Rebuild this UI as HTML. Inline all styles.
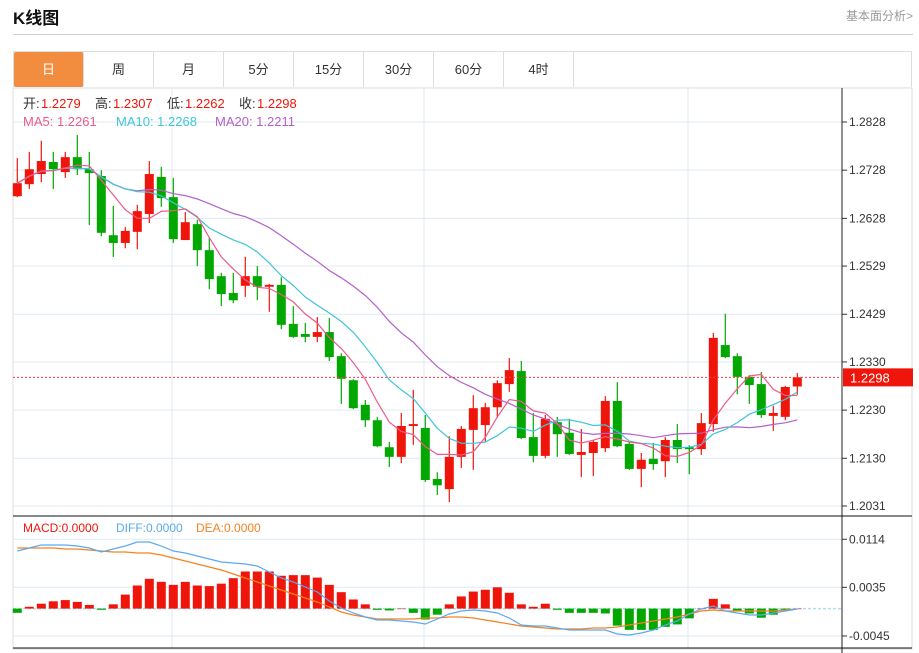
<!DOCTYPE html>
<html><head><meta charset="utf-8">
<style>
body{margin:0;background:#fff;width:919px;height:653px;overflow:hidden;font-family:"Liberation Sans","Noto Sans CJK SC",sans-serif;}
#title{position:absolute;left:13px;top:4px;font-size:17px;font-weight:bold;color:#111;}
#more{position:absolute;right:6px;top:7px;font-size:12px;color:#999;}
#hr{position:absolute;left:13px;top:34px;width:900px;height:1px;background:#ccc;}
#tabs{position:absolute;left:13px;top:51px;width:899px;height:36px;border:1px solid #ddd;border-bottom:none;box-sizing:border-box;}
.tab{position:absolute;top:0;width:70px;height:35px;line-height:35px;text-align:center;font-size:13px;color:#333;border-right:1px solid #ddd;box-sizing:border-box;}
.tab.on{background:#f28c3e;color:#fff;border-radius:2px;}
svg{position:absolute;left:0;top:0;}
</style></head><body>
<div id="title">K线图</div>
<div id="more">基本面分析&gt;</div>
<div id="hr"></div>
<div id="tabs">
<div class="tab on" style="left:0">日</div>
<div class="tab" style="left:70px">周</div>
<div class="tab" style="left:140px">月</div>
<div class="tab" style="left:210px">5分</div>
<div class="tab" style="left:280px">15分</div>
<div class="tab" style="left:350px">30分</div>
<div class="tab" style="left:420px">60分</div>
<div class="tab" style="left:490px">4时</div>
</div>
<svg id="chart" width="919" height="653"></svg>
<script>
const opens =[1.2674,1.2699,1.2720,1.2745,1.2724,1.2755,1.2730,1.2716,1.2593,1.2577,1.2600,1.2637,1.2714,1.2672,1.2583,1.2616,1.2562,1.2508,1.2473,1.2488,1.2508,1.2486,1.2490,1.2409,1.2388,1.2382,1.2392,1.2342,1.2292,1.2241,1.2209,1.2153,1.2133,1.2197,1.2193,1.2087,1.2066,1.2133,1.2189,1.2199,1.2236,1.2284,1.2311,1.2174,1.2135,1.2205,1.2183,1.2137,1.2141,1.2151,1.2249,1.2160,1.2108,1.2129,1.2124,1.2168,1.2153,1.2149,1.2201,1.2365,1.2342,1.2299,1.2284,1.2218,1.2216,1.2279];
const highs =[1.2753,1.2766,1.2789,1.2766,1.2766,1.2801,1.2766,1.2728,1.2654,1.2610,1.2656,1.2747,1.2735,1.2712,1.2641,1.2625,1.2589,1.2515,1.2515,1.2548,1.2529,1.2492,1.2506,1.2446,1.2411,1.2423,1.2421,1.2348,1.2294,1.2251,1.2216,1.2164,1.2224,1.2272,1.2220,1.2101,1.2176,1.2197,1.2261,1.2245,1.2292,1.2338,1.2332,1.2224,1.2220,1.2216,1.2212,1.2191,1.2168,1.2259,1.2288,1.2164,1.2141,1.2162,1.2174,1.2201,1.2157,1.2224,1.2390,1.2430,1.2348,1.2303,1.2309,1.2239,1.2280,1.2307];
const lows  =[1.2672,1.2689,1.2703,1.2689,1.2712,1.2718,1.2614,1.2591,1.2548,1.2566,1.2564,1.2618,1.2652,1.2577,1.2583,1.2529,1.2481,1.2446,1.2452,1.2465,1.2458,1.2434,1.2398,1.2380,1.2371,1.2371,1.2332,1.2243,1.2232,1.2195,1.2153,1.2112,1.2120,1.2158,1.2081,1.2054,1.2039,1.2110,1.2106,1.2164,1.2214,1.2268,1.2170,1.2122,1.2130,1.2133,1.2137,1.2091,1.2093,1.2143,1.2153,1.2106,1.2070,1.2106,1.2091,1.2120,1.2097,1.2137,1.2185,1.2338,1.2263,1.2243,1.2214,1.2187,1.2209,1.2262];
const closes=[1.2701,1.2730,1.2747,1.2730,1.2755,1.2730,1.2722,1.2598,1.2577,1.2602,1.2643,1.2720,1.2670,1.2585,1.2620,1.2562,1.2502,1.2471,1.2458,1.2508,1.2486,1.2490,1.2407,1.2382,1.2382,1.2392,1.2340,1.2295,1.2234,1.2209,1.2155,1.2133,1.2197,1.2201,1.2085,1.2074,1.2133,1.2191,1.2234,1.2236,1.2286,1.2313,1.2172,1.2135,1.2212,1.2180,1.2139,1.2143,1.2164,1.2249,1.2155,1.2108,1.2127,1.2118,1.2168,1.2149,1.2149,1.2203,1.2380,1.2340,1.2299,1.2282,1.2220,1.2224,1.2278,1.2298];
const macdHist=[-0.0007,0.0003,0.0008,0.0012,0.0014,0.0011,0.0006,-0.0002,0.0007,0.0023,0.0038,0.0049,0.0044,0.0039,0.0044,0.0038,0.0037,0.0041,0.0050,0.0061,0.0061,0.0061,0.0054,0.0055,0.0055,0.0051,0.0039,0.0027,0.0015,0.0007,-0.0002,-0.0003,0,-0.0007,-0.0018,-0.0010,0.0007,0.0020,0.0028,0.0031,0.0035,0.0026,0.0007,0.0003,0.0008,-0.0002,-0.0007,-0.0007,-0.0007,-0.0008,-0.0028,-0.0035,-0.0035,-0.0035,-0.0030,-0.0026,-0.0016,0,0.0016,0.0007,-0.0003,-0.0008,-0.0015,-0.0010,-0.0002,0];
const diffVals=[0.00947,0.00996,0.01046,0.01046,0.01046,0.01029,0.00996,0.00930,0.00980,0.01029,0.01095,0.01095,0.01029,0.00947,0.00914,0.00865,0.00815,0.00766,0.00750,0.00733,0.00700,0.00602,0.00503,0.00437,0.00355,0.00273,0.00125,0.00010,-0.00072,-0.00138,-0.00187,-0.00187,-0.00204,-0.00220,-0.00253,-0.00171,-0.00089,-0.00039,-0.00023,-0.00039,-0.00072,-0.00155,-0.00270,-0.00286,-0.00286,-0.00319,-0.00352,-0.00352,-0.00352,-0.00352,-0.00418,-0.00434,-0.00401,-0.00352,-0.00270,-0.00204,-0.00089,-0.00007,0.00043,-0.00039,-0.00072,-0.00105,-0.00105,-0.00072,-0.00039,-0.00007];
const deaVals=[0.00996,0.00996,0.00996,0.00996,0.00980,0.00980,0.00963,0.00947,0.00930,0.00930,0.00914,0.00914,0.00881,0.00832,0.00783,0.00733,0.00684,0.00634,0.00569,0.00503,0.00437,0.00372,0.00306,0.00240,0.00174,0.00109,0.00026,-0.00056,-0.00105,-0.00138,-0.00171,-0.00171,-0.00171,-0.00171,-0.00155,-0.00155,-0.00138,-0.00138,-0.00155,-0.00187,-0.00220,-0.00253,-0.00286,-0.00302,-0.00319,-0.00335,-0.00335,-0.00335,-0.00319,-0.00319,-0.00302,-0.00270,-0.00237,-0.00204,-0.00171,-0.00138,-0.00089,-0.00039,-0.00023,-0.00039,-0.00039,-0.00039,-0.00039,-0.00039,-0.00023,-0.00007];
const priceTicks=[1.2828,1.2728,1.2628,1.2529,1.2429,1.2330,1.2230,1.2130,1.2031];
const macdTicks=[0.0114,0.0035,-0.0045];
const maLegend=['MA5: 1.2261','MA10: 1.2268','MA20: 1.2211'];

const NS='http://www.w3.org/2000/svg';
const svg=document.getElementById('chart');
function mk(t,a,parent){const e=document.createElementNS(NS,t);for(const k in a)e.setAttribute(k,a[k]);(parent||svg).appendChild(e);return e;}
const L=13,R=842;
const xOf=i=>17.3+12*i;
const yP=v=>122+(1.2828-v)/(1.2828-1.2031)*384;
const yM=v=>608.6-v/0.0001644;
const RED='#f0150a',GREEN='#02a702';

let e;
e=mk('rect',{x:L,y:88,width:899,height:561,fill:'none',stroke:'#ddd'});


[172,424,688].forEach(x=>{e=mk('line',{x1:x,y1:88,x2:x,y2:648,stroke:'#dfeaf3'});

});
priceTicks.forEach(t=>{const y=yP(t);
e=mk('line',{x1:L,y1:y,x2:R,y2:y,stroke:'#dfeaf3'});


mk('line',{x1:R,y1:y,x2:R+5,y2:y,stroke:'#333'});
e=mk('text',{x:R+7,y:y+4,'font-size':12,fill:'#333'});e.textContent=t.toFixed(4);

});
macdTicks.forEach(t=>{const y=yM(t);
e=mk('line',{x1:L,y1:y,x2:R,y2:y,stroke:'#dfeaf3'});


mk('line',{x1:R,y1:y,x2:R+5,y2:y,stroke:'#333'});
e=mk('text',{x:R+7,y:y+4,'font-size':12,fill:'#333'});e.textContent=t.toFixed(4);

});
mk('line',{x1:R,y1:88,x2:R,y2:653,stroke:'#222'});
e=mk('line',{x1:L,y1:516,x2:912,y2:516,stroke:'#111'});


mk('line',{x1:L,y1:648,x2:912,y2:648,stroke:'#111'});
e=mk('line',{x1:L,y1:yM(0),x2:R,y2:yM(0),stroke:'#aee0f0','stroke-dasharray':'3,2','stroke-width':1.5});



closes.forEach((c,i)=>{const o=opens[i],x=xOf(i),up=c>=o,col=up?RED:GREEN;
const g=mk('g',{});


mk('line',{x1:x,y1:yP(highs[i]),x2:x,y2:yP(lows[i]),stroke:col,'stroke-width':1.2},g);
const t=Math.min(yP(o),yP(c)),b=Math.max(yP(o),yP(c));
mk('rect',{x:x-4.5,y:t,width:9,height:Math.max(b-t,1.5),fill:col},g);});

function ma(n){return closes.map((_,i)=>{const s=closes.slice(Math.max(0,i-n+1),i+1);return s.reduce((a,b)=>a+b,0)/s.length;});}
function line(vals,yf,col,name){const p=vals.map((v,i)=>xOf(i).toFixed(1)+','+yf(v).toFixed(1)).join(' ');
const el=mk('polyline',{points:p,fill:'none',stroke:col,'stroke-width':1.2});

}
line(ma(20),yP,'#b55fc9','ma20-line');
line(ma(10),yP,'#3ec5d9','ma10-line');
line(ma(5),yP,'#ef5a8a','ma5-line');

const ly=yP(closes[closes.length-1]);
e=mk('line',{x1:L,y1:ly,x2:R,y2:ly,stroke:'#f04040','stroke-dasharray':'2,2'});


e=mk('rect',{x:R+1,y:ly-9,width:70,height:18,fill:'#f0150a'});


e=mk('text',{x:R+8,y:ly+5,'font-size':13,fill:'#fff'});e.textContent=closes[closes.length-1].toFixed(4);



macdHist.forEach((v,i)=>{const x=xOf(i),y0=yM(0),y1=yM(v);
const el=mk('rect',{x:x-4.5,y:Math.min(y0,y1),width:9,height:Math.max(Math.abs(y1-y0),0.5),fill:v>=0?RED:GREEN});

});
line(deaVals,yM,'#f58220','dea-line');
line(diffVals,yM,'#5aaaf0','diff-line');

function txt(x,y,s,col,size,name){const el=mk('text',{x:x,y:y,'font-size':size,fill:col});el.textContent=s;

return el;}
const ohlc=[['开:',opens.at(-1)],['高:',highs.at(-1)],['低:',lows.at(-1)],['收:',closes.at(-1)]];
let lx=23;
ohlc.forEach(([k,v])=>{txt(lx,108,k,'#333',13,'ohlc-key');txt(lx+18,108,v.toFixed(4),RED,13,'ohlc-value');lx+=72;});
txt(23,126,maLegend[0],'#ef5a8a',13,'ma5-legend');
txt(116,126,maLegend[1],'#3ec5d9',13,'ma10-legend');
txt(215,126,maLegend[2],'#b55fc9',13,'ma20-legend');
txt(23,532,'MACD:0.0000',RED,12,'macd-legend');
txt(116,532,'DIFF:0.0000','#5aaaf0',12,'diff-legend');
txt(196,532,'DEA:0.0000','#f58220',12,'dea-legend');
</script>
</body></html>
